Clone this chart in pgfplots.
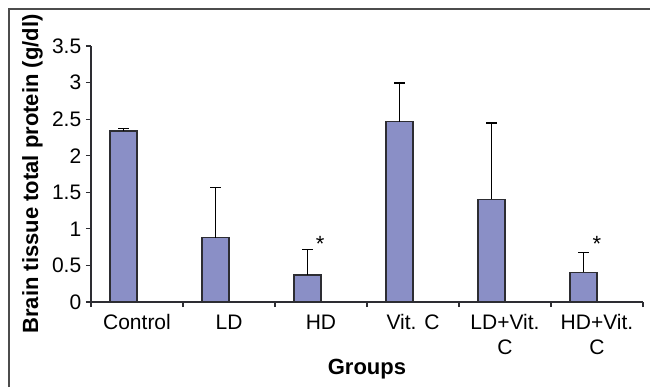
\documentclass[border=0pt]{standalone}
\usepackage{fontspec}
\setmainfont{Liberation Sans}
\usepackage{pgfplots}
\usepackage{pgfplotstable}
\pgfplotsset{compat=1.18}
\definecolor{barfill}{RGB}{138,143,198}
\definecolor{edge}{RGB}{45,45,50}
\pgfplotstableread{
x y ey
0 2.337 0.036
1 0.881 0.689
2 0.370 0.347
3 2.465 0.529
4 1.406 1.040
5 0.406 0.269
}\datatable
\begin{document}
\fontsize{11}{13}\selectfont
\begin{tikzpicture}[x=1pt,y=1pt]
\useasboundingbox (0,0) rectangle (325,193.5);
\draw[black!70,line width=0.8pt] (4.5,0) -- (4.5,189) -- (325,189);
\begin{axis}[
  at={(45.5pt,42.5pt)}, anchor=south west,
  scale only axis, width=276pt, height=128pt,
  xmin=-0.5, xmax=5.5, ymin=0, ymax=3.5,
  axis x line*=bottom, axis y line*=left,
  axis line style={edge, line width=0.6pt},
  ytick={0,0.5,1,1.5,2,2.5,3,3.5},
  xtick={0,1,2,3,4,5},
  xticklabels={Control, LD, HD, Vit. C, {LD+Vit.\\C}, {HD+Vit.\\C}},
  minor xtick={-0.5,0.5,1.5,2.5,3.5,4.5,5.5},
  tick align=outside, major tick length=2.5pt, minor tick length=2.5pt,
  tick style={edge, line width=0.6pt},
  major x tick style={draw=none},
  xticklabel style={align=center, font=\fontsize{10.5}{12.5}\selectfont},
  yticklabel style={font=\fontsize{10.5}{12.6}\selectfont, xshift=1.5pt},
  /pgf/number format/assume math mode=true,
  ylabel={\textbf{Brain tissue total protein (g/dl)}},
  ylabel style={at={(axis description cs:-0.106,0.5)}, anchor=center},
  xlabel={\textbf{Groups}},
  xlabel style={at={(axis description cs:0.5,-0.285)}, anchor=base},
  clip=false,
]
\addplot[ybar, bar width=0.293, bar shift=0, fill=barfill, draw=edge, line width=0.6pt,
  error bars/.cd, y dir=plus, y explicit,
  error bar style={black, line width=0.6pt},
  error mark options={black, line width=0.6pt, mark size=2.75pt, rotate=90}]
  table[x expr=\thisrow{x}-0.1465, y=y, y error=ey] {\datatable};
\node at (axis cs:1.99,0.80) {*};
\node at (axis cs:5.0,0.80) {*};
\end{axis}
\end{tikzpicture}
\end{document}
